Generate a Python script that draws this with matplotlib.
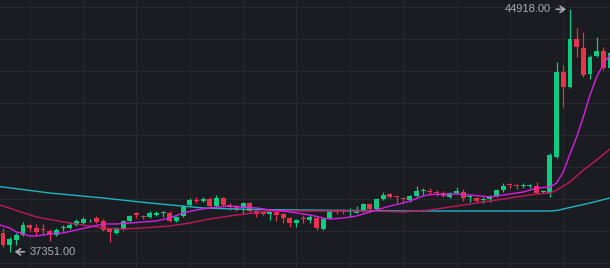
import numpy as np
import matplotlib.pyplot as plt

# OHLC candles
opens = [37938, 37564, 37720, 37876, 38188, 38094, 38040, 38001, 37876, 38085,
         38094, 38188, 38250, 38360, 38406, 38313, 38063, 37938, 38063, 38313,
         38562, 38445, 38438, 38500, 38555, 38562, 38313, 38469, 38812, 38945,
         38937, 38999, 38781, 39030, 38812, 38750, 38718, 38874, 38625, 38594,
         38540, 38594, 38531, 38406, 38250, 38385, 38344, 38406, 38063, 38406,
         38600, 38600, 38585, 38562, 38656, 38843, 38687, 38999, 39155, 39070,
         39010, 38968, 39093, 39240, 39225, 39195, 39186, 39062, 39186, 39218,
         39055, 39030, 38960, 38999, 39093, 39280, 39440, 39410, 39395, 39395,
         39405, 39210, 39186, 40310, 42962, 42494, 43991, 43710, 42899, 43461,
         43617, 43086]
highs = [38094, 37814, 37938, 38282, 38219, 38219, 38219, 38063, 38094, 38188,
         38282, 38375, 38438, 38375, 38469, 38375, 38094, 38126, 38344, 38500,
         38594, 38500, 38625, 38625, 38625, 38625, 38469, 38812, 39030, 39062,
         39062, 39062, 39124, 39062, 38874, 38812, 38906, 38906, 38656, 38625,
         38625, 38625, 38562, 38438, 38375, 38500, 38500, 38438, 38406, 38656,
         38687, 38687, 38718, 38781, 38874, 38874, 39030, 39218, 39186, 39093,
         39062, 39124, 39405, 39342, 39342, 39280, 39249, 39218, 39374, 39311,
         39124, 39062, 39062, 39124, 39311, 39498, 39498, 39467, 39498, 39467,
         39530, 39280, 40434, 43274, 43180, 44918, 44334, 44210, 43492, 44054,
         43742, 43617]
lows = [37502, 37351, 37564, 37860, 38001, 37845, 37876, 37689, 37845, 38001,
        38063, 38157, 38219, 38282, 38250, 38001, 37658, 37907, 38032, 38282,
        38406, 38375, 38406, 38469, 38438, 38282, 38282, 38438, 38781, 38874,
        38906, 38750, 38718, 38781, 38656, 38625, 38562, 38594, 38438, 38500,
        38344, 38313, 38250, 38126, 38126, 38250, 38250, 38032, 38032, 38375,
        38531, 38531, 38438, 38550, 38594, 38594, 38656, 38968, 39030, 38874,
        38874, 38906, 39062, 39124, 39124, 39093, 39062, 39030, 39155, 38937,
        38906, 38906, 38874, 38906, 39062, 39218, 39342, 39311, 39342, 39342,
        39170, 39186, 39062, 40278, 41870, 42470, 43430, 42806, 42743, 43430,
        43024, 43000]
closes = [37564, 37751, 37876, 38188, 38094, 37970, 38020, 37907, 38032, 38100,
          38188, 38313, 38375, 38375, 38282, 38032, 37970, 38094, 38313, 38469,
          38500, 38430, 38562, 38562, 38570, 38313, 38438, 38781, 38968, 38930,
          38999, 38781, 39030, 38812, 38750, 38687, 38874, 38625, 38531, 38531,
          38590, 38500, 38406, 38250, 38344, 38370, 38438, 38094, 38375, 38625,
          38585, 38585, 38600, 38656, 38843, 38687, 38999, 39124, 39062, 39055,
          38995, 39093, 39249, 39255, 39210, 39180, 39093, 39186, 39249, 39030,
          39070, 38937, 38975, 39093, 39280, 39405, 39425, 39395, 39410, 39410,
          39186, 39225, 40372, 42962, 42494, 43991, 43742, 42868, 43430, 43617,
          43086, 43554]

# moving average lines (candle index, value)
ma_fast_idx = [-1, 0, 1, 2, 3, 4, 5, 7, 9, 11, 13, 15, 17, 19, 21, 23, 25, 27, 29, 31,
               34, 36, 38, 40, 42, 44, 46, 48, 49, 51, 53, 55, 57, 58, 60, 61, 63, 64,
               68, 70, 73, 75, 78, 80, 82, 83, 84, 85, 86, 87, 88, 89, 90, 91]
ma_fast = [38219, 38157, 38094, 37970, 37907, 37845, 37845, 37907, 37938, 38032,
           38126, 38219, 38219, 38250, 38282, 38313, 38406, 38562, 38656, 38718,
           38781, 38750, 38718, 38656, 38625, 38562, 38500, 38406, 38375, 38406,
           38469, 38594, 38718, 38781, 38874, 38937, 39093, 39140, 39155, 39124,
           39062, 39124, 39218, 39342, 39374, 39498, 39842, 40403, 40934, 41558,
           42244, 42806, 43211, 43492]

ma_mid_idx = [-1, 0, 5, 10, 15, 18, 21, 25, 28, 31, 35, 40, 45, 50, 55, 60, 64, 69,
              75, 80, 82, 83, 85, 87, 89, 91]
ma_mid = [38843, 38781, 38438, 38250, 38094, 38063, 38094, 38157, 38250, 38375,
          38500, 38625, 38625, 38625, 38625, 38594, 38656, 38812, 38999, 39155,
          39186, 39280, 39530, 39904, 40216, 40559]

ma_slow_idx = [-1, 0, 7, 15, 22, 30, 37, 45, 60, 82, 83, 85, 88, 91]
ma_slow = [39389, 39374, 39186, 39030, 38874, 38718, 38672, 38656, 38625, 38625,
           38640, 38734, 38874, 39030]

up_color = '#0ecb81'
down_color = '#e8334f'
bg = '#1b1c21'

fig = plt.figure(figsize=(6.1, 2.68), dpi=100)
fig.patch.set_facecolor(bg)
ax = fig.add_axes([0, 0, 1, 1])
ax.set_facecolor(bg)

o = np.array(opens)
h = np.array(highs)
l = np.array(lows)
c = np.array(closes)
x = np.arange(len(o))
colors = np.where(c >= o, up_color, down_color)

# grid
for gx in range(4, 92, 8):
    ax.axvline(gx, color='#26272d', lw=0.8, zorder=0)
for gy in range(37000, 46000, 1000):
    ax.axhline(gy, color='#26272d', lw=0.8, zorder=0)

# wicks and bodies
ax.vlines(x, l, h, colors=colors, lw=0.9, zorder=2)
body_bottom = np.minimum(o, c)
body_height = np.maximum(np.abs(c - o), 30)
ax.bar(x, body_height, bottom=body_bottom, width=0.74, color=colors, zorder=3)

# moving averages
ax.plot(ma_slow_idx, ma_slow, color='#1fb5c2', lw=1.0, zorder=4)
ax.plot(ma_mid_idx, ma_mid, color='#c2185b', lw=1.0, zorder=4)
ax.plot(ma_fast_idx, ma_fast, color='#d81fe6', lw=1.0, zorder=4)

# high / low markers
label_color = '#a9acb3'
i_hi = int(np.argmax(h))
i_lo = int(np.argmin(l))
arrow = dict(arrowstyle='->,head_length=0.4,head_width=0.28',
             color=label_color, lw=1.2, shrinkA=2, shrinkB=0)
ax.annotate(f"{h[i_hi]:.2f}", xy=(i_hi - 0.6, h[i_hi]), xytext=(-11, 0),
            textcoords='offset points', ha='right', va='center',
            color=label_color, fontsize=8, family='Liberation Sans',
            arrowprops=arrow)
ax.annotate(f"{l[i_lo]:.2f}", xy=(i_lo + 0.75, l[i_lo]), xytext=(11, 0),
            textcoords='offset points', ha='left', va='center',
            color=label_color, fontsize=8, family='Liberation Sans',
            arrowprops=arrow)

ax.set_xlim(-0.45, 91.0)
ax.set_ylim(36846, 45208)
ax.axis('off')

fig.savefig('out.png', dpi=100, facecolor=bg)
